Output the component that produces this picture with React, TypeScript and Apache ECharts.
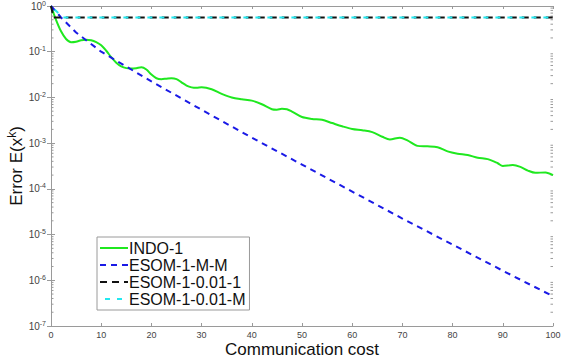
import React, { useEffect, useRef } from "react";
import * as echarts from "echarts";

// Communication cost (x) for each series
const indoX = [0, 1, 2, 3, 4, 5, 6, 7, 8, 9, 10, 11, 12, 13, 14, 15, 16, 17, 18, 19, 20, 21, 22, 23, 24, 25, 26, 27, 28, 29, 30, 32, 34, 36, 38, 40, 42, 44, 45, 46, 47, 48, 50, 52, 54, 56, 58, 60, 62, 64, 66, 67.5, 69.5, 71, 73, 75, 77, 79, 81, 83, 85, 87, 89, 90, 92, 93.5, 95, 96.5, 98.5, 100];
const indoErr = [1, 0.5, 0.28, 0.19, 0.162, 0.166, 0.178, 0.182, 0.178, 0.162, 0.138, 0.105, 0.0759, 0.0575, 0.0479, 0.0437, 0.0427, 0.0437, 0.0457, 0.0407, 0.0316, 0.0263, 0.0251, 0.0257, 0.0263, 0.0251, 0.0214, 0.0182, 0.0166, 0.0162, 0.0166, 0.0151, 0.012, 0.01, 0.00912, 0.00851, 0.00708, 0.0055, 0.00537, 0.00562, 0.0055, 0.0049, 0.00372, 0.00339, 0.00324, 0.00275, 0.00234, 0.00204, 0.00191, 0.00174, 0.00138, 0.0012, 0.00132, 0.00115, 0.000871, 0.000851, 0.000813, 0.000661, 0.000589, 0.00055, 0.000479, 0.000447, 0.000363, 0.000316, 0.000331, 0.000302, 0.000251, 0.000224, 0.000229, 0.0002];

const esomMMX = [0, 2, 5, 10, 20, 30, 40, 50, 60, 70, 80, 90, 100];
const esomMMErr = [1, 0.562, 0.263, 0.1, 0.0224, 0.00537, 0.00132, 0.000339, 8.71e-5, 2.24e-5, 6.03e-6, 1.62e-6, 4.47e-7];

const esom001_1X = [0, 0.5, 100];
const esom001_1Err = [1, 0.56, 0.56];

const esom001_MX = [0, 2.4, 100];
const esom001_MErr = [1, 0.56, 0.56];

const seriesNames = ["INDO-1", "ESOM-1-M-M", "ESOM-1-0.01-1", "ESOM-1-0.01-M"];

const xTicks = [0, 10, 20, 30, 40, 50, 60, 70, 80, 90, 100];
const yDecades = [0, -1, -2, -3, -4, -5, -6, -7];
const minorMantissas = [2, 3, 4, 5, 6, 7, 8, 9];

const FONT = "'Liberation Sans', Arial, Helvetica, sans-serif";
const AXIS = "#9a9a9a";

const pair = (xs: number[], ys: number[]) => xs.map((x, i) => [x, ys[i]]);

export default function App() {
  const ref = useRef<HTMLDivElement>(null);

  useEffect(() => {
    if (!ref.current) return;
    const chart = echarts.init(ref.current, undefined, { renderer: "svg" });

    const minorTickValues: number[][] = [];
    yDecades.slice(1).forEach((e) => {
      minorMantissas.forEach((m) => minorTickValues.push([0, m * Math.pow(10, e)]));
    });

    const supLabel = (v: number) => {
      const e = Math.round(Math.log10(v));
      return `{b|10}{s|${e}}`;
    };
    const labelRich = {
      b: { fontSize: 10, color: "#444", fontFamily: FONT },
      s: { fontSize: 7, color: "#444", fontFamily: FONT, padding: [0, 0, 6, 0] },
    };

    const xBase = {
      type: "value" as const,
      min: 0,
      max: 100,
      interval: 10,
      axisLine: { show: true, lineStyle: { color: AXIS, width: 1 } },
      axisTick: { show: true, inside: true, length: 3, lineStyle: { color: AXIS } },
      splitLine: { show: false },
    };
    const yBase = {
      type: "log" as const,
      logBase: 10,
      min: 1e-7,
      max: 1,
      axisLine: { show: true, lineStyle: { color: AXIS, width: 1 } },
      axisTick: { show: true, inside: true, length: 4, lineStyle: { color: AXIS } },
      splitLine: { show: false },
    };

    chart.setOption({
      animation: false,
      backgroundColor: "#ffffff",
      textStyle: { fontFamily: FONT },
      grid: { left: 51, right: 8, top: 6, bottom: 37, containLabel: false, outerBoundsMode: "none" },
      legend: {
        data: seriesNames,
        orient: "vertical",
        left: 97,
        top: 237,
        itemWidth: 28,
        itemHeight: 12,
        itemGap: 1,
        padding: [3, 4, 3, 2],
        borderColor: "#9a9a9a",
        borderWidth: 1,
        backgroundColor: "#ffffff",
        itemStyle: { opacity: 0 },
        textStyle: { fontSize: 16, color: "#111", fontFamily: FONT, padding: [0, 0, 0, -4] },
      },
      xAxis: [
        {
          ...xBase,
          position: "bottom",
          name: "Communication cost",
          nameLocation: "middle",
          nameGap: 15,
          nameMoveOverlap: false,
          nameTextStyle: { fontSize: 17, color: "#111", fontFamily: FONT, verticalAlign: "top" },
          axisLabel: {
            show: true,
            fontSize: 9,
            color: "#444",
            margin: 4,
            formatter: (v: number) => (xTicks.includes(v) ? String(v) : ""),
          },
        },
        { ...xBase, position: "top", axisLabel: { show: false } },
      ],
      yAxis: [
        {
          ...yBase,
          position: "left",
          name: "{a|Error E(x}{k|k}{a|)}",
          nameLocation: "middle",
          nameGap: 24,
          nameMoveOverlap: false,
          nameRotate: 90,
          nameTextStyle: {
            rich: {
              a: { fontSize: 17, color: "#111", fontFamily: FONT },
              k: { fontSize: 12, color: "#111", fontFamily: FONT, padding: [0, 0, 9, 0] },
            },
          },
          axisLabel: { show: true, margin: 5, formatter: supLabel, rich: labelRich },
        },
        { ...yBase, position: "right", axisLabel: { show: false } },
      ],
      series: [
        {
          type: "custom",
          name: "minor-ticks",
          silent: true,
          xAxisIndex: 0,
          yAxisIndex: 0,
          data: minorTickValues,
          renderItem: (_params: any, api: any) => {
            const v = api.value(1);
            const pl = api.coord([0, v]);
            const pr = api.coord([100, v]);
            const style = { stroke: AXIS, lineWidth: 1 };
            return {
              type: "group",
              children: [
                { type: "line", shape: { x1: pl[0], y1: pl[1], x2: pl[0] + 2.5, y2: pl[1] }, style },
                { type: "line", shape: { x1: pr[0] - 2.5, y1: pr[1], x2: pr[0], y2: pr[1] }, style },
              ],
            };
          },
          z: 1,
        },
        {
          name: seriesNames[0],
          type: "line",
          data: pair(indoX, indoErr),
          symbol: "none",
          smooth: 0.3,
          lineStyle: { color: "#1fe81f", width: 2 },
          itemStyle: { color: "#1fe81f" },
          z: 3,
        },
        {
          name: seriesNames[1],
          type: "line",
          data: pair(esomMMX, esomMMErr),
          symbol: "none",
          lineStyle: { color: "#1a1ae6", width: 2, type: [6, 5] },
          itemStyle: { color: "#1a1ae6" },
          z: 4,
        },
        {
          name: seriesNames[2],
          type: "line",
          data: pair(esom001_1X, esom001_1Err),
          symbol: "none",
          lineStyle: { color: "#111111", width: 2, type: [7, 5] },
          itemStyle: { color: "#111111" },
          z: 4,
        },
        {
          name: seriesNames[3],
          type: "line",
          data: pair(esom001_MX, esom001_MErr),
          symbol: "none",
          lineStyle: { color: "#22e8f0", width: 2, type: [5, 7], dashOffset: 7 },
          itemStyle: { color: "#22e8f0" },
          z: 5,
        },
      ],
    });

    return () => chart.dispose();
  }, []);

  return (
    <div
      ref={ref}
      style={{ position: "absolute", left: 0, top: 0, width: 561, height: 363, background: "#fff" }}
    />
  );
}
